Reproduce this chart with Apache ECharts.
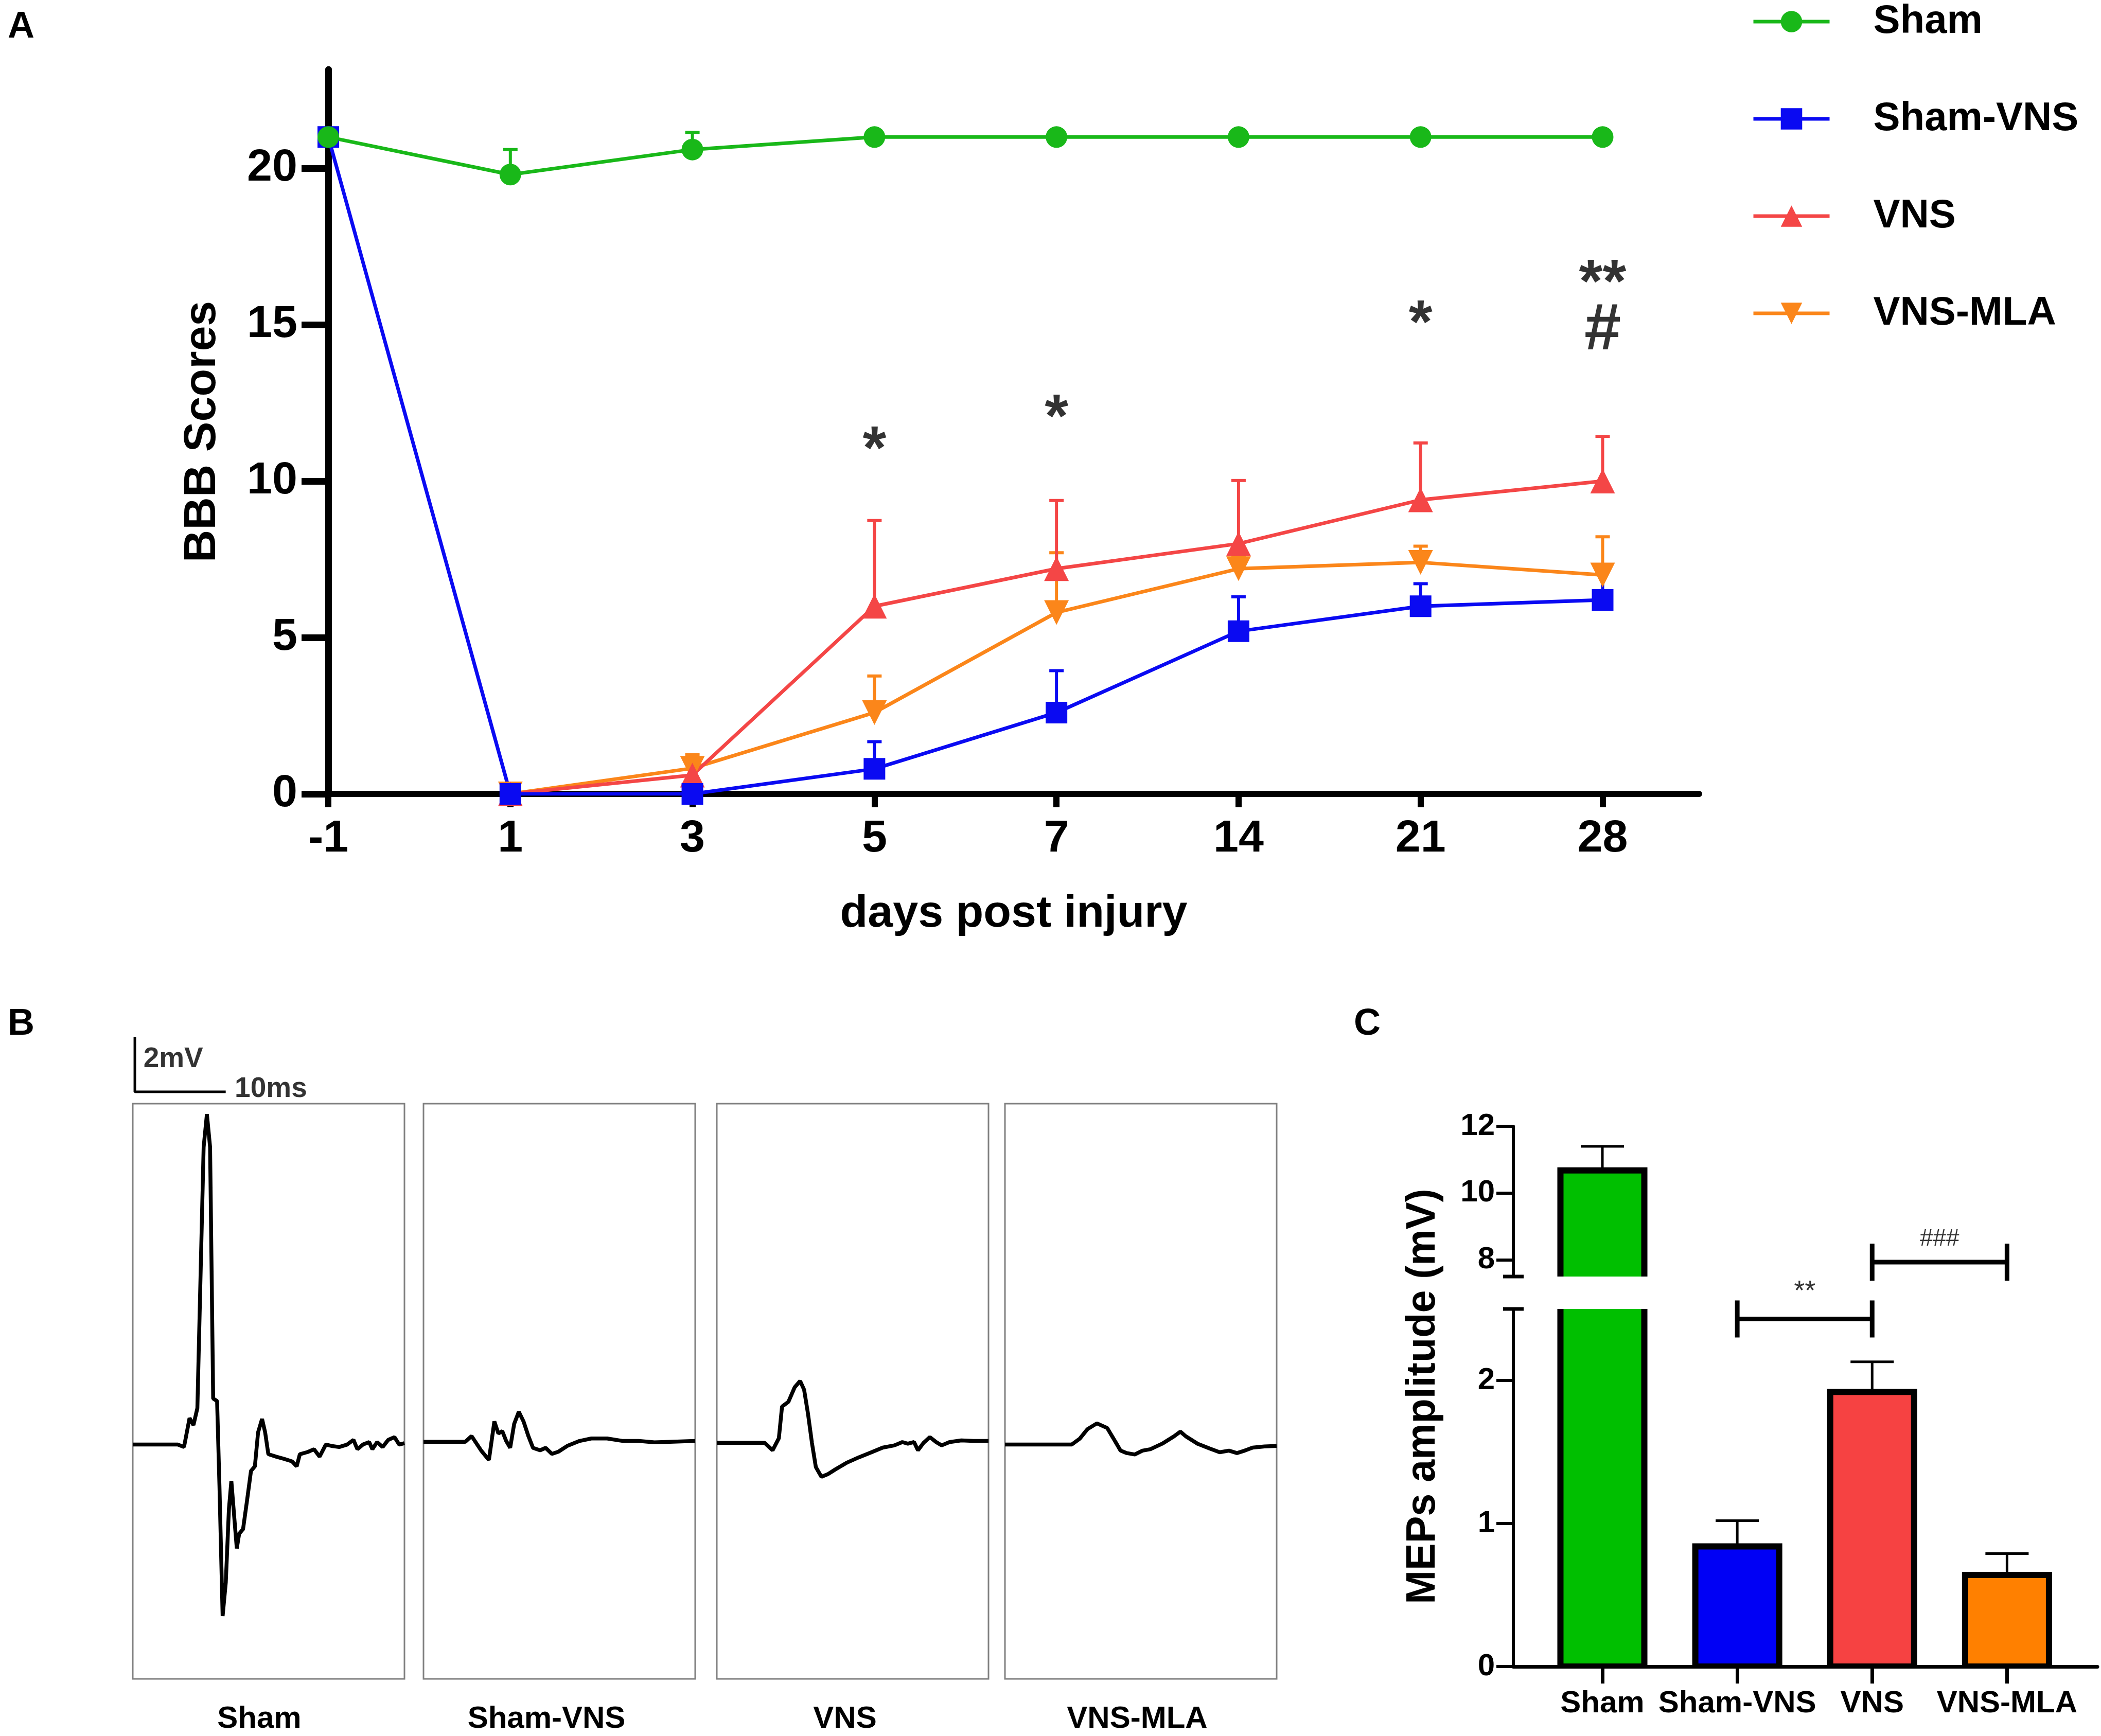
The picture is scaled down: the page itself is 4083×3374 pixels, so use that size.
<!DOCTYPE html>
<html>
<head>
<meta charset="utf-8">
<script src="https://cdn.jsdelivr.net/npm/echarts@6/dist/echarts.min.js"></script>
<style>
html, body { margin: 0; padding: 0; background: #fff; }
#chart { width: 4083px; height: 3374px; }
</style>
</head>
<body>
<div id="chart"></div>
<script>
const FONT = "'Liberation Sans', Arial, sans-serif";

// ---- panel A: BBB scores ----
const dayLabels = ["-1", "1", "3", "5", "7", "14", "21", "28"];
const groupNames = ["Sham", "Sham-VNS", "VNS", "VNS-MLA"];
const lineColors = ["#19b819", "#0a0af2", "#f44646", "#fb861a"];
const shamScore = [21, 19.8, 20.6, 21, 21, 21, 21, 21];
const shamVnsScore = [21, 0, 0, 0.8, 2.6, 5.2, 6.0, 6.2];
const vnsScore = [null, 0, 0.6, 6.0, 7.2, 8.0, 9.4, 10.0];
const vnsMlaScore = [null, 0, 0.82, 2.6, 5.8, 7.2, 7.4, 7.0];
const shamErrTop = [null, 20.6, 21.15, null, null, null, null, null];
const shamVnsErrTop = [null, null, null, 1.67, 3.94, 6.3, 6.72, 7.28];
const vnsErrTop = [null, null, 1.15, 8.74, 9.38, 10.02, 11.22, 11.43];
const vnsMlaErrTop = [null, null, 1.25, 3.77, 7.71, 7.63, 7.92, 8.22];
const starX = [3, 4, 6, 7];
const starY = [11.38, 12.4, 15.4, 16.7];
const starText = ["*", "*", "*", "**"];
const hashX = [7];
const hashY = [14.8];
const hashText = ["#"];

// ---- panel B: MEP traces, [ms, mV] ----
const traceSham = [
  [0, 0], [4.95, 0], [5.64, -0.09], [6.25, 0.96], [6.68, 0.71], [7.11, 1.32], [7.8, 10.8],
  [8.16, 12.0], [8.51, 10.8], [8.85, 1.67], [9.28, 1.58], [9.54, -1.49], [9.89, -6.23],
  [10.24, -5.0], [10.58, -2.35], [10.85, -1.32], [11.19, -2.72], [11.45, -3.77], [11.71, -3.24],
  [12.14, -3.07], [12.58, -2.02], [13.01, -0.96], [13.44, -0.79], [13.79, 0.44], [14.23, 0.93],
  [14.57, 0.44], [14.92, -0.35], [15.78, -0.44], [16.65, -0.52], [17.52, -0.61], [18.04, -0.79],
  [18.39, -0.35], [19.26, -0.27], [19.95, -0.17], [20.56, -0.44], [21.25, 0], [21.86, -0.05],
  [22.72, -0.09], [23.59, 0], [24.29, 0.17], [24.72, -0.17], [25.33, 0], [26.02, 0.09],
  [26.37, -0.17], [26.89, 0.09], [27.5, -0.09], [28.11, 0.17], [28.8, 0.27], [29.32, 0], [29.9, 0.05]
];
const traceShamVns = [
  [0, 0.1], [4.6, 0.1], [5.29, 0.31], [6.33, -0.21], [7.2, -0.56], [7.8, 0.84], [8.24, 0.4],
  [8.67, 0.49], [9.1, 0.13], [9.54, -0.12], [9.98, 0.75], [10.49, 1.19], [11.01, 0.84],
  [11.54, 0.31], [12.05, -0.12], [12.83, -0.21], [13.44, -0.12], [14.13, -0.34], [14.84, -0.26],
  [15.88, -0.04], [17.17, 0.13], [18.47, 0.22], [20.21, 0.22], [21.95, 0.13], [23.68, 0.13],
  [25.41, 0.08], [27.14, 0.1], [29.9, 0.13]
];
const traceVns = [
  [0, 0.06], [5.27, 0.06], [6.14, -0.21], [6.83, 0.23], [7.18, 1.38], [7.88, 1.55], [8.57, 2.08],
  [9.17, 2.31], [9.61, 1.99], [10.04, 1.11], [10.47, 0.06], [10.9, -0.82], [11.51, -1.17],
  [12.2, -1.08], [13.06, -0.9], [14.36, -0.65], [15.66, -0.46], [16.96, -0.29], [18.26, -0.11],
  [19.55, -0.03], [20.42, 0.09], [21.02, 0.03], [21.71, 0.09], [22.14, -0.21], [22.75, 0.06],
  [23.45, 0.27], [24.14, 0.09], [24.75, -0.03], [25.61, 0.09], [26.91, 0.15], [28.2, 0.13], [29.9, 0.13]
];
const traceVnsMla = [
  [0, 0], [7.35, 0], [8.22, 0.21], [9.08, 0.56], [10.12, 0.77], [11.25, 0.6], [12.12, 0.12],
  [12.72, -0.22], [13.41, -0.31], [14.28, -0.36], [15.14, -0.22], [16.0, -0.17], [17.3, 0.03],
  [18.61, 0.3], [19.3, 0.47], [19.9, 0.3], [21.2, 0.03], [22.49, -0.14], [23.63, -0.28],
  [24.65, -0.22], [25.53, -0.31], [26.39, -0.22], [27.26, -0.11], [28.55, -0.07], [29.9, -0.05]
];
const traces = [traceSham, traceShamVns, traceVns, traceVnsMla];
const scaleBar = [[0.23, 14.81], [0.23, 12.81], [10.23, 12.81]];
const scaleBarText = [
  { value: [1.14, 13.99], name: "2mV" },
  { value: [11.19, 12.9], name: "10ms" }
];

// ---- panel C: MEP amplitude ----
const barColors = ["#00bf00", "#0000f5", "#f64242", "#ff8000"];
const mepAmp = [10.68, 0.84, 1.92, 0.64];
const mepErrTop = [11.4, 1.02, 2.13, 0.79];
const lowerMin = 0, lowerMax = 2.5, upperMin = 7.5, upperMax = 12;
const cXMin = -0.66, cXMax = 3.67;
const bracketLower = [[1, 2, 2.43]];
const bracketUpper = [[2, 3, 7.93]];
const sigLower = [{ value: [1.5, 2.66], name: "**" }];
const sigUpper = [{ value: [2.5, 8.62], name: "###" }];

const chart = echarts.init(document.getElementById("chart"), null, { renderer: "canvas", devicePixelRatio: 1 });

function errRender(color, lw, capW) {
  return function (params, api) {
    const x = api.value(0);
    const p0 = api.coord([x, api.value(1)]);
    const p1 = api.coord([x, api.value(2)]);
    const st = { stroke: color, lineWidth: lw };
    return {
      type: "group",
      children: [
        { type: "line", shape: { x1: p0[0], y1: p0[1], x2: p1[0], y2: p1[1] }, style: st },
        { type: "line", shape: { x1: p1[0] - capW / 2, y1: p1[1], x2: p1[0] + capW / 2, y2: p1[1] }, style: st }
      ]
    };
  };
}

// bars of panel C drawn as clipped rects so the break cuts the border too
const barHalf = 0.311;
function barRender(params, api) {
  const i = api.value(0);
  const tl = api.coord([i - barHalf, api.value(1)]);
  const br = api.coord([i + barHalf, 0]);
  return {
    type: "rect",
    shape: { x: tl[0], y: tl[1], width: br[0] - tl[0], height: br[1] - tl[1] },
    style: { fill: barColors[i], stroke: "#000", lineWidth: 12 }
  };
}

function bracketRender(params, api) {
  const a = api.coord([api.value(0), api.value(2)]);
  const b = api.coord([api.value(1), api.value(2)]);
  const st = { stroke: "#000", lineWidth: 9 };
  const h = 36;
  return {
    type: "group",
    children: [
      { type: "line", shape: { x1: a[0], y1: a[1], x2: b[0], y2: b[1] }, style: st },
      { type: "line", shape: { x1: a[0], y1: a[1] - h, x2: a[0], y2: a[1] + h }, style: st },
      { type: "line", shape: { x1: b[0], y1: b[1] - h, x2: b[0], y2: b[1] + h }, style: st }
    ]
  };
}

function breakRender(params, api) {
  const p = api.coord([api.value(0), api.value(1)]);
  return {
    type: "line",
    shape: { x1: p[0] - 20, y1: p[1], x2: p[0] + 20, y2: p[1] },
    style: { stroke: "#000", lineWidth: 7 }
  };
}

const scoreSets = [shamScore, shamVnsScore, vnsScore, vnsMlaScore];
const errSets = [shamErrTop, shamVnsErrTop, vnsErrTop, vnsMlaErrTop];
const symbols = ["circle", "rect", "triangle", "triangle"];
const symbolSizes = [42, 42, 48, 48];
const symbolRot = [0, 0, 0, 180];

const series = [];
// draw order: VNS-MLA, VNS, Sham-VNS, Sham (Sham on top)
[3, 2, 1, 0].forEach((g) => {
  const errData = [];
  errSets[g].forEach((t, i) => {
    if (t != null) errData.push([i, scoreSets[g][i], t]);
  });
  series.push({
    type: "custom",
    xAxisIndex: 0, yAxisIndex: 0,
    renderItem: errRender(lineColors[g], 6, 28),
    data: errData,
    encode: { x: 0, y: [1, 2] },
    silent: true
  });
  series.push({
    name: groupNames[g],
    type: "line",
    xAxisIndex: 0, yAxisIndex: 0,
    data: scoreSets[g].map((v, i) => (v == null ? null : [i, v])).filter(Boolean),
    symbol: symbols[g],
    symbolSize: symbolSizes[g],
    symbolRotate: symbolRot[g],
    showAllSymbol: true,
    lineStyle: { color: lineColors[g], width: 7 },
    itemStyle: { color: lineColors[g] },
    emphasis: { disabled: true },
    animation: false
  });
});

series.push({
  type: "scatter",
  xAxisIndex: 0, yAxisIndex: 0,
  symbolSize: 1,
  itemStyle: { color: "rgba(0,0,0,0)" },
  data: starX.map((x, i) => ({ value: [x, starY[i]], name: starText[i] })),
  label: {
    show: true, position: "inside", formatter: "{b}", offset: [0, 27],
    fontFamily: FONT, fontSize: 118, fontWeight: "bold", color: "#000"
  },
  clip: false, silent: true
});
series.push({
  type: "scatter",
  xAxisIndex: 0, yAxisIndex: 0,
  symbolSize: 1,
  itemStyle: { color: "rgba(0,0,0,0)" },
  data: hashX.map((x, i) => ({ value: [x, hashY[i]], name: hashText[i] })),
  label: {
    show: true, position: "inside", formatter: "{b}", offset: [0, 0],
    fontFamily: FONT, fontSize: 128, fontWeight: "bold", color: "#000"
  },
  clip: false, silent: true
});

// panel B traces (grids 1-4)
traces.forEach((tr, k) => {
  series.push({
    type: "line",
    xAxisIndex: 1 + k, yAxisIndex: 1 + k,
    data: tr,
    showSymbol: false,
    lineStyle: { color: "#000", width: 7.5 },
    silent: true,
    animation: false
  });
});
series.push({
  type: "line",
  xAxisIndex: 1, yAxisIndex: 1,
  data: scaleBar,
  showSymbol: false,
  lineStyle: { color: "#000", width: 5 },
  clip: false, silent: true, animation: false
});
series.push({
  type: "scatter",
  xAxisIndex: 1, yAxisIndex: 1,
  symbolSize: 1,
  itemStyle: { color: "rgba(0,0,0,0)" },
  data: scaleBarText,
  label: {
    show: true, position: "right", distance: 0, formatter: "{b}",
    fontFamily: FONT, fontSize: 55, fontWeight: "bold", color: "#000"
  },
  clip: false, silent: true
});

// panel C: upper grid (5) and lower grid (6)
const upperBars = [], lowerBars = [], upperErr = [], lowerErr = [];
mepAmp.forEach((v, i) => {
  if (v > upperMin) upperBars.push([i, v]);
  lowerBars.push([i, v]);
  if (mepErrTop[i] > upperMin) upperErr.push([i, v, mepErrTop[i]]);
  else lowerErr.push([i, v, mepErrTop[i]]);
});
series.push({
  type: "custom", xAxisIndex: 5, yAxisIndex: 5, renderItem: barRender,
  data: upperBars, encode: { x: 0, y: 1 }, clip: true, silent: true, z: 2
});
series.push({
  type: "custom", xAxisIndex: 6, yAxisIndex: 6, renderItem: barRender,
  data: lowerBars, encode: { x: 0, y: 1 }, clip: true, silent: true, z: 2
});
series.push({
  type: "custom", xAxisIndex: 5, yAxisIndex: 5, renderItem: errRender("#000", 5, 84),
  data: upperErr, encode: { x: 0, y: [1, 2] }, z: 1, silent: true
});
series.push({
  type: "custom", xAxisIndex: 6, yAxisIndex: 6, renderItem: errRender("#000", 5, 84),
  data: lowerErr, encode: { x: 0, y: [1, 2] }, z: 1, silent: true
});
series.push({
  type: "custom", xAxisIndex: 6, yAxisIndex: 6, renderItem: bracketRender,
  data: bracketLower, clip: false, silent: true
});
series.push({
  type: "custom", xAxisIndex: 5, yAxisIndex: 5, renderItem: bracketRender,
  data: bracketUpper, clip: false, silent: true
});
series.push({
  type: "custom", xAxisIndex: 6, yAxisIndex: 6, renderItem: breakRender,
  data: [[cXMin, lowerMax]], clip: false, silent: true, z: 5
});
series.push({
  type: "custom", xAxisIndex: 5, yAxisIndex: 5, renderItem: breakRender,
  data: [[cXMin, upperMin]], clip: false, silent: true, z: 5
});
series.push({
  type: "scatter", xAxisIndex: 6, yAxisIndex: 6, symbolSize: 1,
  itemStyle: { color: "rgba(0,0,0,0)" }, data: sigLower,
  label: { show: true, position: "inside", formatter: "{b}", offset: [0, 12],
    fontFamily: FONT, fontSize: 54, color: "#000" },
  clip: false, silent: true
});
series.push({
  type: "scatter", xAxisIndex: 5, yAxisIndex: 5, symbolSize: 1,
  itemStyle: { color: "rgba(0,0,0,0)" }, data: sigUpper,
  label: { show: true, position: "inside", formatter: "{b}",
    fontFamily: FONT, fontSize: 46, color: "#000" },
  clip: false, silent: true
});

const boxLefts = [258, 823, 1393, 1953];
const boxNameShift = [36, 50, 30, 14];
const grids = [{ left: 638, top: 135, width: 2664, height: 1408 }];
boxLefts.forEach((l) => grids.push({
  left: l, top: 2145, width: 528, height: 1118,
  show: true, borderColor: "#808080", borderWidth: 3, backgroundColor: "#fff"
}));
grids.push({ left: 2941, top: 2189, width: 1135, height: 292 });
grids.push({ left: 2941, top: 2544, width: 1135, height: 695 });

const blackAxis = (w) => ({ show: true, onZero: false, lineStyle: { color: "#000", width: w } });
const labelFont = (size) => ({ fontFamily: FONT, fontSize: size, fontWeight: "bold", color: "#000" });

const xAxes = [{
  type: "value", gridIndex: 0, min: 0, max: 7.53,
  axisLine: blackAxis(12),
  axisTick: { show: true, customValues: [0, 1, 2, 3, 4, 5, 6, 7], length: 26, lineStyle: { color: "#000", width: 12 } },
  axisLabel: Object.assign({ customValues: [0, 1, 2, 3, 4, 5, 6, 7], margin: 44,
    formatter: (v) => dayLabels[Math.round(v)] }, labelFont(88)),
  splitLine: { show: false },
  name: "days post injury", nameLocation: "middle", nameGap: 190,
  nameTextStyle: labelFont(88)
}];
const yAxes = [{
  type: "value", gridIndex: 0, min: 0, max: 23.16,
  axisLine: blackAxis(13),
  axisTick: { show: true, customValues: [0, 5, 10, 15, 20], length: 52, lineStyle: { color: "#000", width: 13 } },
  axisLabel: Object.assign({ customValues: [0, 5, 10, 15, 20], margin: 60 }, labelFont(88)),
  splitLine: { show: false },
  name: "BBB Scores", nameLocation: "middle", nameGap: 200,
  nameTextStyle: labelFont(88)
}];
groupNames.forEach((n, k) => {
  xAxes.push({
    type: "value", gridIndex: 1 + k, min: 0, max: 29.9,
    axisLine: { show: false }, axisTick: { show: false }, axisLabel: { show: false }, splitLine: { show: false },
    name: n, nameLocation: "middle", nameGap: 48,
    nameTextStyle: Object.assign({ padding: [0, boxNameShift[k], 0, 0] }, labelFont(60))
  });
  yAxes.push({
    type: "value", gridIndex: 1 + k, min: -8.51, max: 12.38,
    axisLine: { show: false }, axisTick: { show: false }, axisLabel: { show: false }, splitLine: { show: false }
  });
});
xAxes.push({ type: "value", gridIndex: 5, min: cXMin, max: cXMax, show: false });
xAxes.push({
  type: "value", gridIndex: 6, min: cXMin, max: cXMax,
  axisLine: blackAxis(7),
  axisTick: { show: true, customValues: [0, 1, 2, 3], length: 33, lineStyle: { color: "#000", width: 7 } },
  axisLabel: Object.assign({ customValues: [0, 1, 2, 3], margin: 42,
    formatter: (v) => groupNames[Math.round(v)] }, labelFont(60)),
  splitLine: { show: false }
});
yAxes.push({
  type: "value", gridIndex: 5, min: upperMin, max: upperMax,
  axisLine: blackAxis(6),
  axisTick: { show: true, customValues: [8, 10, 12], length: 33, lineStyle: { color: "#000", width: 6 } },
  axisLabel: Object.assign({ customValues: [8, 10, 12], margin: 36 }, labelFont(60)),
  splitLine: { show: false }
});
yAxes.push({
  type: "value", gridIndex: 6, min: lowerMin, max: lowerMax,
  axisLine: blackAxis(6),
  axisTick: { show: true, customValues: [0, 1, 2], length: 33, lineStyle: { color: "#000", width: 6 } },
  axisLabel: Object.assign({ customValues: [0, 1, 2], margin: 36 }, labelFont(60)),
  splitLine: { show: false }
});

chart.setOption({
  animation: false,
  backgroundColor: "#fff",
  title: [
    { text: "A", left: 10, top: 12, textStyle: labelFont(72) },
    { text: "B", left: 10, top: 1950, textStyle: labelFont(72) },
    { text: "C", left: 2626, top: 1950, textStyle: labelFont(72) }
  ],
  legend: {
    data: groupNames,
    orient: "vertical",
    left: 3399, top: -2,
    itemWidth: 148, itemHeight: 52, itemGap: 111,
    selectedMode: false,
    lineStyle: { width: 7 },
    textStyle: Object.assign({ padding: [0, 0, 0, 80] }, labelFont(78))
  },
  grid: grids,
  xAxis: xAxes,
  yAxis: yAxes,
  graphic: [{
    type: "text", x: 2766, y: 2714, rotation: Math.PI / 2,
    style: { text: "MEPs amplitude (mV)", font: "bold 79px " + FONT, fill: "#000",
      align: "center", verticalAlign: "middle" }
  }],
  series: series
});
</script>
</body>
</html>
